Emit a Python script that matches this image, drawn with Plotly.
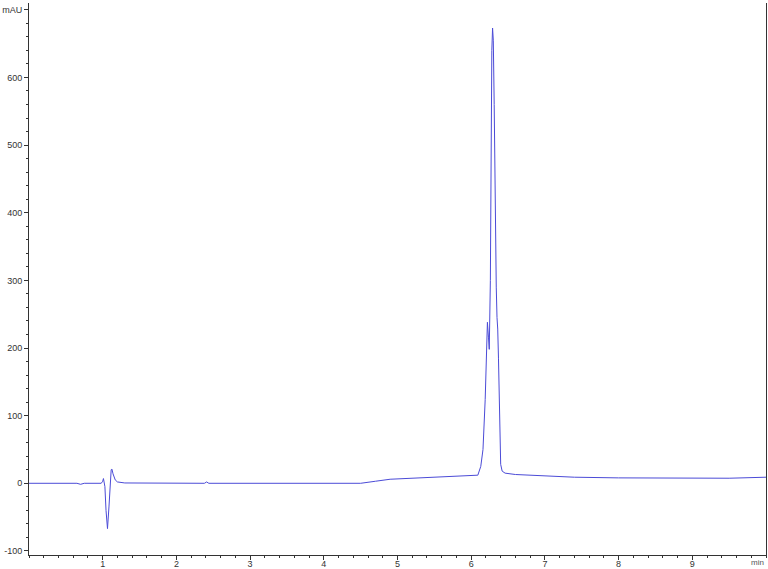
import plotly.graph_objects as go

# chromatogram: retention time (min) vs absorbance (mAU)
time_min = [0.0, 0.5, 0.65, 0.7, 0.75, 0.98, 1.0, 1.01, 1.03, 1.045, 1.065, 1.085,
            1.1, 1.115, 1.125, 1.14, 1.17, 1.2, 1.3, 2.38, 2.41, 2.44, 4.5, 4.6,
            4.7, 4.9, 5.2, 5.6, 6.0, 6.09, 6.13, 6.16, 6.19, 6.21, 6.22, 6.235,
            6.245, 6.26, 6.27, 6.28, 6.29, 6.30, 6.312, 6.325, 6.34, 6.35, 6.36,
            6.37, 6.38, 6.39, 6.40, 6.42, 6.46, 6.6, 7.0, 7.4, 8.0, 8.5, 9.0,
            9.5, 10.0]
mau = [0, 0, 0, -1.5, 0, 0, 3, 7, -5, -40, -67, -35,
       5, 20, 21, 14, 5, 2, 0.5, 0, 2, 0, 0, 1,
       3, 6, 7.5, 9, 11, 12, 25, 50, 124, 200, 238, 215,
       198, 300, 520, 640, 673, 655, 560, 410, 290, 245, 228,
       185, 124, 50, 28, 18, 15, 13, 11, 9, 8, 8, 7,
       7.5, 9]

y_ticks = [-100, 0, 100, 200, 300, 400, 500, 600, 700]
y_labels = ["-100", "0", "100", "200", "300", "400", "500", "600", "mAU"]
x_ticks = [1, 2, 3, 4, 5, 6, 7, 8, 9]
x_labels = ["1", "2", "3", "4", "5", "6", "7", "8", "9"]

fig = go.Figure()
fig.add_trace(go.Scatter(x=time_min, y=mau, mode="lines",
                         line=dict(color="rgb(75,75,215)", width=1),
                         showlegend=False))

fig.update_layout(width=768, height=569,
                  margin=dict(l=29, r=2, t=3, b=14, autoexpand=False),
                  plot_bgcolor="white", paper_bgcolor="white",
                  font=dict(family="Liberation Sans, Arial", size=9, color="#333"),
                  xaxis=dict(range=[0, 10], tickmode="array", tickvals=x_ticks,
                             ticktext=x_labels, ticks="outside", ticklen=4,
                             tickcolor="#333", showline=True, linecolor="#333",
                             showgrid=False, zeroline=False, automargin=False,
                             ticklabelstandoff=-4,
                             minor=dict(tick0=0, dtick=0.2, ticks="outside",
                                        ticklen=2, tickcolor="#333", showgrid=False)),
                  yaxis=dict(range=[-106, 710], tickmode="array", tickvals=y_ticks,
                             ticktext=y_labels, ticks="outside", ticklen=4,
                             tickcolor="#333", showline=True, linecolor="#333",
                             mirror=True, showgrid=False, zeroline=False,
                             automargin=False,
                             minor=dict(tick0=0, dtick=20, ticks="outside",
                                        ticklen=2, tickcolor="#333", showgrid=False)))

fig.add_annotation(text="min", xref="paper", yref="paper", x=1, y=0,
                   xanchor="right", yanchor="top", yshift=-1, showarrow=False,
                   font=dict(size=8, color="#555"))

# page body has a default 8px margin, drop it so the chart fills the window
fig.write_html("out.html", config={"displayModeBar": False},
               post_script="document.body.style.margin='0';")
